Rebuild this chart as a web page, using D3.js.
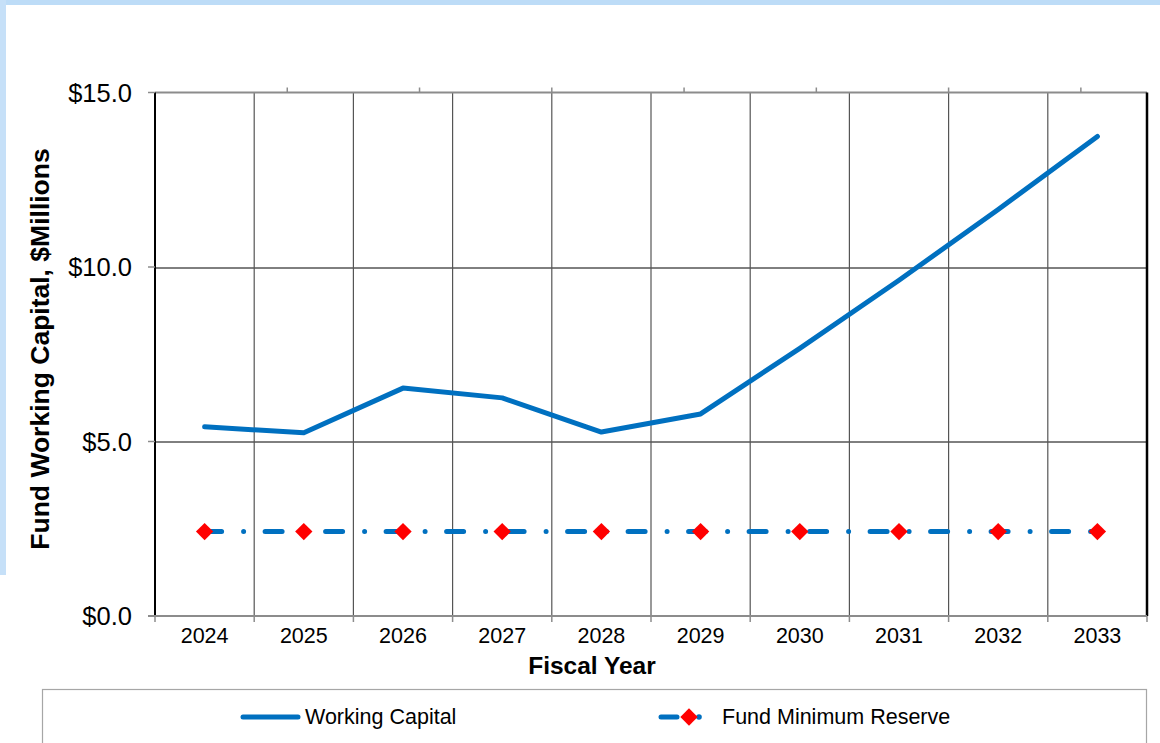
<!DOCTYPE html>
<html>
<head>
<meta charset="utf-8">
<script src="https://cdn.jsdelivr.net/npm/d3@7"></script>
<style>
  body { margin: 0; background: white; }
  text { font-family: "Liberation Sans", Arial, sans-serif; fill: #000; }
</style>
</head>
<body>
<div id="chart"></div>
<script>
// Chart data
var years = ["2024", "2025", "2026", "2027", "2028", "2029", "2030", "2031", "2032", "2033"];
var workingCapital = [5.42, 5.25, 6.53, 6.25, 5.27, 5.79, 7.67, 9.62, 11.65, 13.74];
var minReserve = [2.42, 2.42, 2.42, 2.42, 2.42, 2.42, 2.42, 2.42, 2.42, 2.42];
var yTicks = [0, 5, 10, 15];

// Define SVG area dimensions
var svgWidth = 1160;
var svgHeight = 743;

// Plot area edges
var margin = { top: 92.5, right: 13, bottom: 127, left: 155 };
var chartWidth = svgWidth - margin.left - margin.right;
var chartHeight = svgHeight - margin.top - margin.bottom;

var blue = "#0070C0";

var svg = d3.select("#chart")
  .append("svg")
  .attr("width", svgWidth)
  .attr("height", svgHeight);

// Light blue frame at the top and left edges
svg.append("rect").attr("x", 0).attr("y", 0).attr("width", svgWidth).attr("height", 5).attr("fill", "#BDDCF7");
svg.append("rect").attr("x", 0).attr("y", 0).attr("width", 6).attr("height", 575).attr("fill", "#C6E0F8");

var chartGroup = svg.append("g")
  .attr("transform", `translate(${margin.left}, ${margin.top})`);

// Scales
var xScale = d3.scaleBand().domain(years).range([0, chartWidth]);
var yScale = d3.scaleLinear().domain([0, 15]).range([chartHeight, 0]);

// Horizontal gridlines
chartGroup.selectAll("line.hgrid")
  .data(yTicks.filter(d => d > 0 && d < 15))
  .enter()
  .append("line")
  .attr("x1", 0).attr("x2", chartWidth)
  .attr("y1", d => Math.round(yScale(d)) + 0.5).attr("y2", d => Math.round(yScale(d)) + 0.5)
  .attr("stroke", "#000").attr("stroke-width", 1);

// Vertical gridlines at category boundaries
chartGroup.selectAll("line.vgrid")
  .data(years.slice(1))
  .enter()
  .append("line")
  .attr("x1", d => xScale(d)).attr("x2", d => xScale(d))
  .attr("y1", 0).attr("y2", chartHeight)
  .attr("stroke", "#555").attr("stroke-width", 1.2);

// Top border with small ticks
chartGroup.append("line")
  .attr("x1", 0).attr("x2", chartWidth).attr("y1", 0).attr("y2", 0)
  .attr("stroke", "#8c8c8c").attr("stroke-width", 2);
chartGroup.selectAll("line.topTick")
  .data(d3.range(1, 8))
  .enter()
  .append("line")
  .attr("x1", d => d * chartWidth / 7.5).attr("x2", d => d * chartWidth / 7.5)
  .attr("y1", -5).attr("y2", 0)
  .attr("stroke", "#8c8c8c").attr("stroke-width", 1.5);

// Left and right borders
chartGroup.append("line")
  .attr("x1", 0).attr("x2", 0).attr("y1", 0).attr("y2", chartHeight)
  .attr("stroke", "#000").attr("stroke-width", 2);
chartGroup.append("line")
  .attr("x1", chartWidth).attr("x2", chartWidth).attr("y1", 0).attr("y2", chartHeight)
  .attr("stroke", "#000").attr("stroke-width", 2.5);

// Bottom axis with ticks at category boundaries
var bottomAxis = chartGroup.append("g")
  .attr("transform", `translate(0, ${chartHeight})`);
bottomAxis.append("line")
  .attr("x1", -7).attr("x2", chartWidth).attr("y1", 0).attr("y2", 0)
  .attr("stroke", "#8c8c8c").attr("stroke-width", 2);
bottomAxis.selectAll("line.tick")
  .data(years.concat(["end"]))
  .enter()
  .append("line")
  .attr("x1", (d, i) => i * xScale.bandwidth()).attr("x2", (d, i) => i * xScale.bandwidth())
  .attr("y1", 0).attr("y2", 6)
  .attr("stroke", "#8c8c8c").attr("stroke-width", 1.5);
bottomAxis.selectAll("text")
  .data(years)
  .enter()
  .append("text")
  .attr("x", d => xScale(d) + xScale.bandwidth() / 2)
  .attr("y", 27)
  .attr("text-anchor", "middle")
  .style("font-size", "21.5px")
  .text(d => d);

// Left axis ticks and labels
var leftAxis = chartGroup.append("g");
leftAxis.selectAll("line")
  .data(yTicks)
  .enter()
  .append("line")
  .attr("x1", -7).attr("x2", 0)
  .attr("y1", d => yScale(d)).attr("y2", d => yScale(d))
  .attr("stroke", "#8c8c8c").attr("stroke-width", 1.5);
leftAxis.selectAll("text")
  .data(yTicks)
  .enter()
  .append("text")
  .attr("x", -23)
  .attr("y", d => yScale(d) + 9)
  .attr("text-anchor", "end")
  .style("font-size", "25.5px")
  .text(d => "$" + d.toFixed(1));

// Axis titles
svg.append("text")
  .attr("transform", "rotate(-90)")
  .attr("x", -349)
  .attr("y", 49)
  .attr("text-anchor", "middle")
  .style("font-size", "26.5px")
  .style("font-weight", "bold")
  .text("Fund Working Capital, $Millions");

svg.append("text")
  .attr("x", 592)
  .attr("y", 674)
  .attr("text-anchor", "middle")
  .style("font-size", "24.5px")
  .style("font-weight", "bold")
  .text("Fiscal Year");

// Working capital line
var wcLine = d3.line()
  .x((d, i) => xScale(years[i]) + xScale.bandwidth() / 2)
  .y(d => yScale(d));

chartGroup.append("path")
  .datum(workingCapital)
  .attr("d", wcLine)
  .attr("fill", "none")
  .attr("stroke", blue)
  .attr("stroke-width", 5)
  .attr("stroke-linejoin", "round")
  .attr("stroke-linecap", "round");

// Minimum reserve line (long dash dot) with red diamonds
chartGroup.append("path")
  .datum(minReserve)
  .attr("d", wcLine)
  .attr("fill", "none")
  .attr("stroke", blue)
  .attr("stroke-width", 5)
  .attr("stroke-linecap", "round")
  .attr("stroke-dasharray", "17,22,0,21.5");

var diamond = d3.symbol().type(d3.symbolSquare).size(150);
chartGroup.selectAll("path.marker")
  .data(minReserve)
  .enter()
  .append("path")
  .attr("d", diamond)
  .attr("transform", (d, i) => `translate(${xScale(years[i]) + xScale.bandwidth() / 2}, ${yScale(d)}) rotate(45)`)
  .attr("fill", "#FF0000");

// Legend box
var legend = svg.append("g");
legend.append("rect")
  .attr("x", 42.5).attr("y", 689.5)
  .attr("width", 1104).attr("height", 80)
  .attr("fill", "white")
  .attr("stroke", "#a6a6a6").attr("stroke-width", 1.2);

legend.append("line")
  .attr("x1", 243).attr("x2", 298).attr("y1", 717).attr("y2", 717)
  .attr("stroke", blue).attr("stroke-width", 5).attr("stroke-linecap", "round");
legend.append("text")
  .attr("x", 305).attr("y", 724)
  .style("font-size", "21.5px")
  .text("Working Capital");

legend.append("line")
  .attr("x1", 661).attr("x2", 677).attr("y1", 717).attr("y2", 717)
  .attr("stroke", blue).attr("stroke-width", 5).attr("stroke-linecap", "round");
legend.append("circle")
  .attr("cx", 699).attr("cy", 717).attr("r", 2.8)
  .attr("fill", blue);
legend.append("path")
  .attr("d", diamond)
  .attr("transform", "translate(689, 717) rotate(45)")
  .attr("fill", "#FF0000");
legend.append("text")
  .attr("x", 722).attr("y", 724)
  .style("font-size", "21.5px")
  .text("Fund Minimum Reserve");
</script>
</body>
</html>
